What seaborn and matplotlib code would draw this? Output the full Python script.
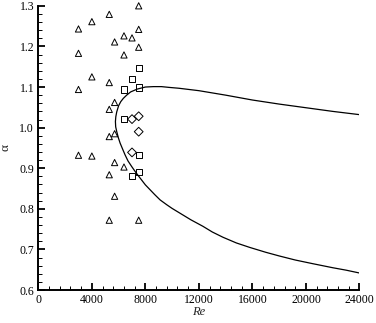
import matplotlib
matplotlib.use("Agg")
import matplotlib.pyplot as plt
from matplotlib.ticker import MultipleLocator
import seaborn as sns
import pandas as pd

# Experimental points: (Re, alpha) grouped by symbol
tri_re = [3000, 3000, 3000, 3000,
          4000, 4000, 4000,
          5300, 5300, 5300, 5300, 5300, 5300,
          5700, 5700, 5700, 5700, 5700,
          6400, 6400, 6400,
          7000,
          7500, 7500, 7500, 7500]
tri_alpha = [1.243, 1.183, 1.094, 0.932,
             1.261, 1.125, 0.930,
             1.279, 1.111, 1.045, 0.978, 0.884, 0.772,
             1.211, 1.062, 0.985, 0.914, 0.831,
             1.226, 1.179, 0.903,
             1.221,
             1.300, 1.242, 1.198, 0.772]

sq_re = [7500, 7000, 6400, 7500, 6400, 7500, 7000, 7500]
sq_alpha = [1.147, 1.120, 1.094, 1.099, 1.022, 0.932, 0.880, 0.891]

dia_re = [7000, 7500, 7500, 7000]
dia_alpha = [1.021, 1.028, 0.990, 0.939]

# Neutral stability curve, traced from the upper branch round the nose to the lower branch
curve_re = [24000, 22000, 20000, 18000, 16000, 14000, 12000, 10500, 9800,
            9200, 8600, 8000, 7400, 6900, 6600, 6350, 6160, 6000, 5860, 5790, 5760,
            5780, 5860, 5980, 6110, 6300, 6480, 6700, 6980, 7300, 7600, 8000,
            8350, 8700, 9100, 9600, 10000, 10600, 11400, 12300, 13000, 13800,
            14800, 15800, 17000, 18000, 19200, 20500, 22000, 23000, 24000]
curve_alpha = [1.032, 1.040, 1.049, 1.058, 1.068, 1.080, 1.091, 1.097, 1.099,
               1.101, 1.101, 1.100, 1.095, 1.088, 1.080, 1.072, 1.064, 1.054, 1.039, 1.027, 1.015,
               1.002, 0.990, 0.975, 0.962, 0.947, 0.933, 0.918, 0.904, 0.889, 0.876, 0.859,
               0.847, 0.835, 0.822, 0.810, 0.801, 0.789, 0.773, 0.757, 0.743, 0.730,
               0.716, 0.705, 0.693, 0.684, 0.674, 0.665, 0.655, 0.649, 0.642]

x_ticks = [0, 4000, 8000, 12000, 16000, 20000, 24000]
y_ticks = [0.6, 0.7, 0.8, 0.9, 1.0, 1.1, 1.2, 1.3]

pts = pd.DataFrame({
    "Re": tri_re + sq_re + dia_re,
    "alpha": tri_alpha + sq_alpha + dia_alpha,
    "kind": ["tri"] * len(tri_re) + ["sq"] * len(sq_re) + ["dia"] * len(dia_re),
})
curve = pd.DataFrame({"Re": curve_re, "alpha": curve_alpha})

sns.set_style("ticks")
plt.rcParams["font.family"] = ["Liberation Serif", "DejaVu Serif"]

fig = plt.figure(figsize=(3.76, 3.23), dpi=100)
ax = fig.add_axes([0.102, 0.102, 0.854, 0.880])

sns.lineplot(data=curve, x="Re", y="alpha", sort=False, estimator=None,
             color="black", linewidth=0.9, ax=ax)
sns.scatterplot(data=pts, x="Re", y="alpha", style="kind",
                markers={"tri": "^", "sq": "s", "dia": "D"},
                s=20, facecolor="white", edgecolor="black", linewidth=0.7,
                legend=False, ax=ax, zorder=3)
# hollow symbols, allowed to sit on the frame edge
for coll in ax.collections:
    coll.set_facecolor("none")
    coll.set_clip_on(False)

ax.set_xlim(0, 24000)
ax.set_ylim(0.6, 1.3)
ax.set_xticks(x_ticks)
ax.set_yticks(y_ticks)
ax.set_xticklabels([str(v) for v in x_ticks])
ax.set_yticklabels([f"{v:.1f}" for v in y_ticks])
ax.xaxis.set_minor_locator(MultipleLocator(800))
ax.yaxis.set_minor_locator(MultipleLocator(0.02))

ax.tick_params(which="major", direction="in", length=5, width=1.3,
               labelsize=8.5, colors="black", pad=3)
ax.tick_params(which="minor", direction="in", length=2.8, width=0.7, colors="black")

sns.despine(ax=ax)
for s in ("left", "bottom"):
    ax.spines[s].set_linewidth(1.4)
    ax.spines[s].set_color("black")

ax.set_xlabel("Re", fontstyle="italic", fontsize=9)
ax.set_ylabel("α", fontsize=9.5, rotation=90)
ax.xaxis.set_label_coords(0.5, -0.055)
ax.yaxis.set_label_coords(-0.083, 0.5)

fig.savefig("out.png", dpi=100, facecolor="white")
